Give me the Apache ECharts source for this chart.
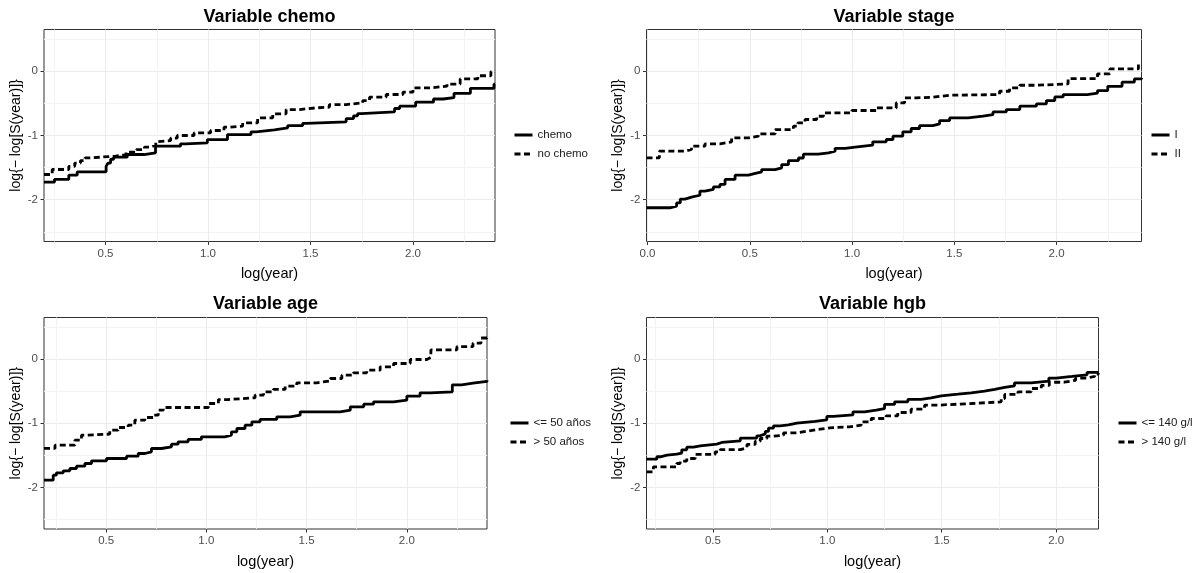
<!DOCTYPE html>
<html>
<head>
<meta charset="utf-8">
<script src="https://cdn.jsdelivr.net/npm/echarts@6/dist/echarts.min.js"></script>
<style>
html,body{margin:0;padding:0;background:#fff;}
#chart{width:1196px;height:573px;}
</style>
</head>
<body>
<div id="chart"></div>
<script>
// ---------- DATA ----------
const titles = ['Variable chemo', 'Variable stage', 'Variable age', 'Variable hgb'];
const legendNames = [['chemo', 'no chemo'], ['I', 'II'], ['<= 50 años', '> 50 años'], ['<= 140 g/l', '> 140 g/l']];
const xLimits = [[0.2, 2.4], [-0.005, 2.415], [0.19, 2.4], [0.21, 2.185]];
const yLimits = [-2.65, 0.65];
const xMajorTicks = [[0.5, 1, 1.5, 2], [0, 0.5, 1, 1.5, 2], [0.5, 1, 1.5, 2], [0.5, 1, 1.5, 2]];
const xMinorTicks = [[0.25, 0.75, 1.25, 1.75, 2.25], [0.25, 0.75, 1.25, 1.75, 2.25], [0.25, 0.75, 1.25, 1.75, 2.25], [0.25, 0.75, 1.25, 1.75]];
const yMajorTicks = [-2, -1, 0];
const yMinorTicks = [-2.5, -1.5, -0.5, 0.5];

// chemo
const chemoX = [0.2, 0.251, 0.321, 0.362, 0.503, 0.512, 0.525, 0.54, 0.606, 0.688, 0.744, 0.866, 0.891, 0.997, 1.095, 1.21, 1.235, 1.324, 1.389, 1.462, 1.479, 1.674, 1.71, 1.73, 1.748, 1.91, 1.935, 2.013, 2.10, 2.147, 2.20, 2.28, 2.395, 2.4];
const chemoY = [-1.726, -1.684, -1.617, -1.565, -1.48, -1.43, -1.37, -1.337, -1.296, -1.27, -1.166, -1.13, -1.114, -1.063, -0.985, -0.943, -0.912, -0.881, -0.845, -0.81, -0.787, -0.736, -0.694, -0.66, -0.631, -0.58, -0.544, -0.482, -0.432, -0.41, -0.344, -0.266, -0.2, -0.2];
const noChemoX = [0.2, 0.24, 0.321, 0.35, 0.378, 0.40, 0.435, 0.55, 0.60, 0.65, 0.69, 0.72, 0.745, 0.753, 0.818, 0.85, 0.932, 1.013, 1.078, 1.104, 1.169, 1.242, 1.316, 1.381, 1.446, 1.527, 1.592, 1.674, 1.755, 1.788, 1.869, 1.951, 2.0, 2.081, 2.166, 2.23, 2.316, 2.38, 2.4];
const noChemoY = [-1.607, -1.529, -1.48, -1.43, -1.39, -1.347, -1.32, -1.30, -1.26, -1.22, -1.18, -1.15, -1.10, -1.078, -1.04, -1.0, -0.958, -0.922, -0.87, -0.855, -0.803, -0.725, -0.663, -0.596, -0.570, -0.559, -0.518, -0.492, -0.456, -0.404, -0.362, -0.326, -0.259, -0.233, -0.2, -0.12, -0.07, -0.005, -0.005];

// stage
const stageIX = [-0.005, 0.11, 0.142, 0.16, 0.183, 0.215, 0.256, 0.281, 0.322, 0.354, 0.379, 0.428, 0.493, 0.517, 0.558, 0.624, 0.656, 0.689, 0.738, 0.762, 0.835, 0.885, 0.917, 0.966, 1.015, 1.101, 1.167, 1.2, 1.248, 1.289, 1.33, 1.395, 1.428, 1.477, 1.567, 1.64, 1.689, 1.754, 1.82, 1.901, 1.95, 1.991, 2.032, 2.15, 2.2, 2.25, 2.32, 2.38, 2.415];
const stageIY = [-2.125, -2.1, -2.05, -1.99, -1.96, -1.93, -1.866, -1.84, -1.80, -1.762, -1.684, -1.617, -1.596, -1.565, -1.53, -1.503, -1.452, -1.39, -1.35, -1.29, -1.27, -1.244, -1.2, -1.18, -1.15, -1.099, -1.062, -1.01, -0.943, -0.891, -0.845, -0.818, -0.767, -0.726, -0.7, -0.674, -0.633, -0.596, -0.544, -0.508, -0.456, -0.399, -0.363, -0.34, -0.30, -0.234, -0.17, -0.12, -0.104];
const stageIIX = [-0.005, 0.058, 0.183, 0.215, 0.281, 0.354, 0.411, 0.493, 0.542, 0.624, 0.713, 0.735, 0.77, 0.827, 0.86, 0.999, 1.118, 1.216, 1.257, 1.314, 1.395, 1.477, 1.721, 1.77, 1.82, 1.901, 2.056, 2.2, 2.26, 2.40, 2.415];
const stageIIY = [-1.347, -1.244, -1.218, -1.166, -1.13, -1.099, -1.037, -1.01, -0.974, -0.907, -0.855, -0.803, -0.751, -0.7, -0.648, -0.611, -0.57, -0.492, -0.414, -0.404, -0.373, -0.363, -0.311, -0.259, -0.218, -0.197, -0.114, -0.04, 0.036, 0.115, 0.115];

// age
const ageLowX = [0.19, 0.236, 0.252, 0.286, 0.319, 0.352, 0.394, 0.427, 0.502, 0.602, 0.66, 0.693, 0.726, 0.776, 0.826, 0.859, 0.909, 0.975, 1.092, 1.125, 1.152, 1.193, 1.227, 1.268, 1.351, 1.418, 1.468, 1.668, 1.718, 1.785, 1.834, 1.934, 2.0, 2.066, 2.116, 2.227, 2.274, 2.33, 2.4];
const ageLowY = [-1.888, -1.81, -1.774, -1.742, -1.706, -1.67, -1.628, -1.586, -1.55, -1.514, -1.472, -1.446, -1.394, -1.368, -1.326, -1.29, -1.253, -1.212, -1.186, -1.134, -1.082, -1.03, -0.978, -0.941, -0.9, -0.874, -0.822, -0.796, -0.744, -0.702, -0.666, -0.64, -0.577, -0.525, -0.51, -0.40, -0.373, -0.347, -0.33];
const ageHighX = [0.19, 0.245, 0.344, 0.377, 0.394, 0.518, 0.56, 0.61, 0.643, 0.693, 0.735, 0.76, 0.785, 1.01, 1.06, 1.11, 1.243, 1.285, 1.334, 1.393, 1.451, 1.551, 1.618, 1.676, 1.733, 1.8, 1.867, 1.934, 2.017, 2.1, 2.12, 2.25, 2.33, 2.37, 2.4];
const ageHighY = [-1.393, -1.342, -1.264, -1.186, -1.17, -1.108, -1.066, -1.03, -0.952, -0.91, -0.874, -0.796, -0.754, -0.692, -0.63, -0.603, -0.561, -0.51, -0.473, -0.421, -0.369, -0.338, -0.302, -0.25, -0.213, -0.172, -0.12, -0.068, -0.005, 0.026, 0.145, 0.197, 0.25, 0.33, 0.35];

// hgb
const hgbLowX = [0.21, 0.255, 0.27, 0.3, 0.342, 0.364, 0.386, 0.415, 0.445, 0.517, 0.539, 0.62, 0.692, 0.707, 0.729, 0.743, 0.765, 0.794, 0.83, 0.867, 0.947, 0.998, 1.027, 1.112, 1.163, 1.214, 1.25, 1.294, 1.352, 1.41, 1.454, 1.498, 1.571, 1.629, 1.687, 1.731, 1.775, 1.818, 1.891, 1.968, 2.0, 2.07, 2.135, 2.185];
const hgbLowY = [-1.56, -1.523, -1.497, -1.482, -1.466, -1.414, -1.373, -1.352, -1.326, -1.3, -1.274, -1.232, -1.196, -1.165, -1.128, -1.076, -1.04, -1.024, -0.998, -0.972, -0.946, -0.894, -0.87, -0.822, -0.796, -0.77, -0.707, -0.666, -0.629, -0.603, -0.572, -0.546, -0.525, -0.499, -0.473, -0.442, -0.416, -0.369, -0.343, -0.295, -0.27, -0.244, -0.207, -0.207];
const hgbHighX = [0.21, 0.24, 0.342, 0.357, 0.386, 0.423, 0.51, 0.532, 0.62, 0.649, 0.685, 0.707, 0.736, 0.765, 0.809, 0.867, 0.91, 0.969, 1.012, 1.097, 1.148, 1.192, 1.257, 1.308, 1.366, 1.425, 1.483, 1.629, 1.76, 1.775, 1.833, 1.891, 1.935, 1.97, 2.035, 2.085, 2.135, 2.168, 2.185];
const hgbHighY = [-1.758, -1.68, -1.628, -1.59, -1.55, -1.487, -1.446, -1.41, -1.383, -1.331, -1.279, -1.238, -1.201, -1.186, -1.149, -1.123, -1.092, -1.071, -1.056, -1.03, -0.978, -0.926, -0.884, -0.832, -0.78, -0.718, -0.692, -0.666, -0.614, -0.551, -0.51, -0.458, -0.41, -0.36, -0.33, -0.295, -0.27, -0.233, -0.22];

const seriesX = [[chemoX, noChemoX], [stageIX, stageIIX], [ageLowX, ageHighX], [hgbLowX, hgbHighX]];
const seriesY = [[chemoY, noChemoY], [stageIY, stageIIY], [ageLowY, ageHighY], [hgbLowY, hgbHighY]];

// ---------- LAYOUT ----------
const FONT = 'Liberation Sans, Arial, sans-serif';
const grids = [
  {left: 44, top: 29.5, width: 451, height: 212},
  {left: 646.5, top: 29.5, width: 495, height: 212},
  {left: 44, top: 317.5, width: 443, height: 211.5},
  {left: 646.5, top: 317.5, width: 452, height: 211.5}
];
const titleTops = [8, 8, 295, 295];
const legendPos = [
  {left: 513, top: 129},
  {left: 1150, top: 129},
  {left: 509, top: 417},
  {left: 1117, top: 417}
];

const option = {
  animation: false,
  backgroundColor: '#ffffff',
  title: [],
  legend: [],
  grid: [],
  xAxis: [],
  yAxis: [],
  series: []
};

grids.forEach((g, i) => {
  option.grid.push({
    left: g.left, top: g.top, width: g.width, height: g.height,
    show: true, borderColor: '#333333', borderWidth: 1, backgroundColor: '#ffffff',
    containLabel: false
  });
  option.title.push({
    text: titles[i],
    left: g.left + g.width / 2,
    top: titleTops[i],
    textAlign: 'center',
    padding: 0,
    textStyle: {fontFamily: FONT, fontSize: 18, fontWeight: 'bold', color: '#000000'}
  });
  // main x axis
  option.xAxis.push({
    type: 'value', gridIndex: i, min: xLimits[i][0], max: xLimits[i][1], position: 'bottom',
    axisLine: {show: false, onZero: false},
    axisTick: {show: true, length: 3.5, lineStyle: {color: '#333333', width: 1}, customValues: xMajorTicks[i]},
    axisLabel: {show: true, customValues: xMajorTicks[i], formatter: v => Number(v).toFixed(1),
      color: '#4D4D4D', fontSize: 11.5, fontFamily: FONT, margin: 6},
    splitLine: {show: true, lineStyle: {color: '#EBEBEB', width: 1}},
    name: 'log(year)', nameLocation: 'middle', nameGap: 25,
    nameTextStyle: {fontFamily: FONT, fontSize: 14.5, color: '#000000'}
  });
  // minor x axis (grid only)
  option.xAxis.push({
    type: 'value', gridIndex: i, min: xLimits[i][0], max: xLimits[i][1], position: 'bottom',
    axisLine: {show: false, onZero: false},
    axisTick: {show: false, customValues: xMinorTicks[i]},
    axisLabel: {show: false, customValues: xMinorTicks[i]},
    splitLine: {show: true, lineStyle: {color: '#F3F3F3', width: 1}}
  });
  // main y axis
  option.yAxis.push({
    type: 'value', gridIndex: i, min: yLimits[0], max: yLimits[1], position: 'left',
    axisLine: {show: false, onZero: false},
    axisTick: {show: true, length: 3.5, lineStyle: {color: '#333333', width: 1}, customValues: yMajorTicks},
    axisLabel: {show: true, customValues: yMajorTicks, formatter: v => String(Math.round(v)),
      color: '#4D4D4D', fontSize: 11.5, fontFamily: FONT, margin: 6},
    splitLine: {show: true, lineStyle: {color: '#EBEBEB', width: 1}},
    name: 'log{− log[S(year)]}', nameLocation: 'middle', nameGap: 21, nameRotate: 90,
    nameTextStyle: {fontFamily: FONT, fontSize: 14, color: '#000000'}
  });
  option.yAxis.push({
    type: 'value', gridIndex: i, min: yLimits[0], max: yLimits[1], position: 'left',
    axisLine: {show: false, onZero: false},
    axisTick: {show: false, customValues: yMinorTicks},
    axisLabel: {show: false, customValues: yMinorTicks},
    splitLine: {show: true, lineStyle: {color: '#F3F3F3', width: 1}}
  });
  // series
  [0, 1].forEach(k => {
    const xs = seriesX[i][k], ys = seriesY[i][k];
    option.series.push({
      type: 'line',
      name: legendNames[i][k],
      xAxisIndex: 2 * i, yAxisIndex: 2 * i,
      data: xs.map((x, j) => [x, ys[j]]),
      step: 'end',
      symbol: 'none',
      silent: true,
      clip: true,
      lineStyle: {color: '#000000', width: 2.8, type: k === 0 ? 'solid' : [6, 3.5], cap: 'butt'},
      itemStyle: {color: '#000000'},
      z: 3
    });
  });
  option.legend.push({
    data: legendNames[i],
    orient: 'vertical',
    left: legendPos[i].left, top: legendPos[i].top,
    padding: 0,
    itemWidth: 18, itemHeight: 14, itemGap: 7,
    selectedMode: false,
    itemStyle: {opacity: 0},
    lineStyle: {width: 3},
    textStyle: {fontFamily: FONT, fontSize: 11.5, color: '#1A1A1A'}
  });
});

const chart = echarts.init(document.getElementById('chart'), null, {renderer: 'canvas'});
chart.setOption(option);
</script>
</body>
</html>
